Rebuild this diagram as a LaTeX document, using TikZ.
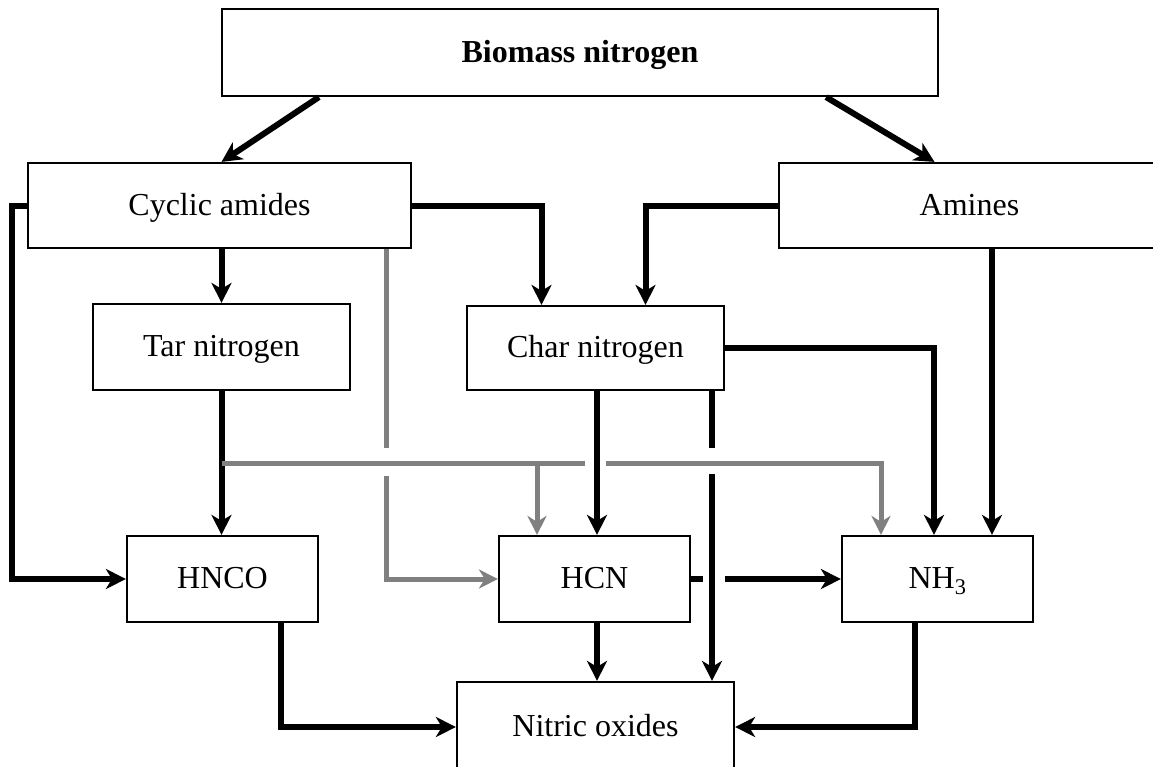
\documentclass[tikz,border=0pt]{standalone}
\usepackage{fontspec}
\setmainfont{Liberation Serif}
\usetikzlibrary{arrows.meta}
\begin{document}
\begin{tikzpicture}[x=1pt,y=-1pt,
  box/.style={draw=black,line width=2.2pt,fill=white,inner sep=0pt,rectangle,
    text height=25pt,text depth=6pt,
    font=\fontsize{32}{38}\selectfont},
  arr/.style={draw=black,line width=6pt,-{Stealth[length=20pt,width=20pt,inset=6pt]}},
  garr/.style={draw=black!50,line width=5pt,-{Stealth[length=19pt,width=19pt,inset=6pt]}},
  cover/.style={fill=white,draw=none}]
\useasboundingbox (0,0) rectangle (1153,766);
\clip (0,0) rectangle (1153,766);
% nodes
\node[box,minimum width=716pt,minimum height=87pt] (bio) at (580,52.5) {\textbf{Biomass nitrogen}};
\node[box,minimum width=383pt,minimum height=85pt] (ca) at (219.5,205.5) {Cyclic amides};
\node[box,minimum width=381pt,minimum height=85pt] (am) at (969.5,205.5) {Amines};
\node[box,minimum width=257pt,minimum height=86pt] (tar) at (221.5,347) {Tar nitrogen};
\node[box,minimum width=257pt,minimum height=84pt] (char) at (595.5,348) {Char nitrogen};
\node[box,minimum width=191pt,minimum height=86pt] (hnco) at (222.5,579) {HNCO};
\node[box,minimum width=191pt,minimum height=86pt] (hcn) at (594.5,579) {HCN};
\node[box,minimum width=191pt,minimum height=86pt] (nh3) at (937.5,579) {NH\textsubscript{3}};
\node[box,minimum width=277pt,minimum height=90pt] (nox) at (595.5,727) {Nitric oxides};
\coordinate (g) at (222,463);
% top arrows
\draw[arr] ([xshift=98pt]bio.south west) -- ([xshift=2pt]ca.north);
\draw[arr] ([xshift=-113pt]bio.south east) -- ([xshift=-35pt]am.north);
\draw[arr] (ca.west) -- ++(-15,0) |- (hnco.west);
\draw[arr] (tar.north |- ca.south) -- (tar.north);
\draw[arr] (ca.east) -| ([xshift=-54pt]char.north);
\draw[arr] (am.west) -| ([xshift=50pt]char.north);
\draw[arr] ([xshift=54.5pt]nh3.north |- am.south) -- ([xshift=54.5pt]nh3.north);
\draw[arr] (char.east) -| ([xshift=-3.5pt]nh3.north);
\draw[arr] (tar.south) -- (tar.south |- hnco.north);
% gray vertical from cyclic amides to HCN
\draw[garr] ([xshift=166.5pt]ca.south) |- (hcn.west);
% HCN -> NH3
\draw[arr] (hcn.east) -- (nh3.west);
\fill[cover] (703,570) rectangle (725,590);
% Char -> Nitric oxides
\draw[arr] ([xshift=116.5pt]char.south) -- ([xshift=116.5pt]char.south |- nox.north);
\fill[cover] (704,448) rectangle (722,474);
\fill[cover] (378,448) rectangle (395,476);
% gray network from tar line
\draw[garr] (g) -| ([xshift=-56.5pt]nh3.north);
\draw[garr] ([xshift=-57.5pt]hcn.north |- g) -- ([xshift=-57.5pt]hcn.north);
\fill[cover] (585,456) rectangle (606,470);
% Char -> HCN
\draw[arr] ([xshift=1.5pt]char.south) -- ([xshift=1.5pt]char.south |- hcn.north);
% to nitric oxides
\draw[arr] ([xshift=2.5pt]hcn.south) -- ([xshift=2.5pt]hcn.south |- nox.north);
\draw[arr] ([xshift=58.5pt]hnco.south) |- (nox.west);
\draw[arr] ([xshift=-22.5pt]nh3.south) |- (nox.east);
\end{tikzpicture}
\end{document}
